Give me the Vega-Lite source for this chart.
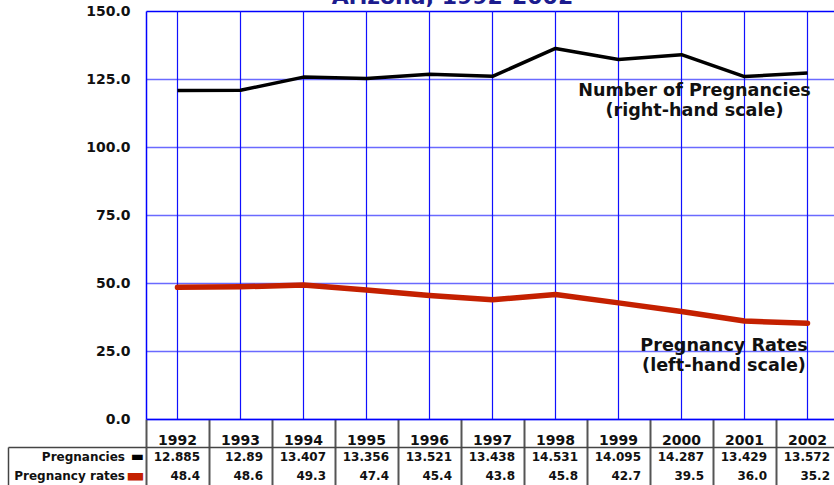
{
  "$schema": "https://vega.github.io/schema/vega-lite/v6.json",
  "padding": {"left": 7, "top": -14, "right": 0, "bottom": 0},
  "config": {"view": {"stroke": null}, "font": "DejaVu Sans"},
  "datasets": {
    "az": [
      {"year": 1992, "preg": 12.885, "rate": 48.4},
      {"year": 1993, "preg": 12.89, "rate": 48.6},
      {"year": 1994, "preg": 13.407, "rate": 49.3},
      {"year": 1995, "preg": 13.356, "rate": 47.4},
      {"year": 1996, "preg": 13.521, "rate": 45.4},
      {"year": 1997, "preg": 13.438, "rate": 43.8},
      {"year": 1998, "preg": 14.531, "rate": 45.8},
      {"year": 1999, "preg": 14.095, "rate": 42.7},
      {"year": 2000, "preg": 14.287, "rate": 39.5},
      {"year": 2001, "preg": 13.429, "rate": 36.0},
      {"year": 2002, "preg": 13.572, "rate": 35.2}
    ]
  },
  "bounds": "flush",
  "spacing": 28,
  "vconcat": [
    {
      "width": 693,
      "height": 408,
      "data": {"name": "az"},
      "title": {"text": "Arizona, 1992-2002", "fontSize": 22, "fontWeight": "bold", "color": "#1c1c8e", "anchor": "middle", "dx": -40, "dy": 28, "offset": 6, "baseline": "alphabetic"},
      "layer": [
        {
          "mark": {"type": "rule", "color": "#1010ff", "strokeWidth": 1.2},
          "encoding": {
            "x": {"field": "year", "type": "ordinal", "scale": {"type": "band", "paddingInner": 0, "paddingOuter": 0},
              "axis": {"title": null, "orient": "bottom", "labelAngle": 0, "labelFontSize": 14, "labelFontWeight": "bold", "labelColor": "#111", "domainColor": "#0000ff", "domainWidth": 1.5, "tickColor": "#555", "tickWidth": 2, "tickSize": 28, "bandPosition": 0, "labelPadding": -14, "grid": false}}
          }
        },
        {
          "mark": {"type": "line", "color": "#c42000", "strokeWidth": 5.5, "strokeCap": "round", "strokeJoin": "round"},
          "encoding": {
            "x": {"field": "year", "type": "ordinal"},
            "y": {"field": "rate", "type": "quantitative", "scale": {"domain": [0, 150]},
              "axis": {"title": null, "values": [0, 25, 50, 75, 100, 125, 150], "format": ".1f", "labelFontSize": 14, "labelFontWeight": "bold", "labelColor": "#111", "ticks": false, "labelPadding": 16, "domainColor": "#0000ff", "domainWidth": 1.5, "grid": true, "gridWidth": 1.5, "gridOpacity": 1, "gridColor": {"condition": {"test": "datum.value === 150", "value": "#0000ff"}, "value": "#6a6aff"}}}
          }
        },
        {
          "mark": {"type": "line", "color": "#000000", "strokeWidth": 3.5, "strokeJoin": "round"},
          "encoding": {
            "x": {"field": "year", "type": "ordinal"},
            "y": {"field": "preg", "type": "quantitative", "scale": {"domain": [0, 16]}, "axis": null}
          }
        },
        {
          "data": {"values": [{}]},
          "mark": {"type": "text", "fontSize": 17.6, "fontWeight": "bold", "color": "#111", "align": "center", "baseline": "alphabetic", "lineHeight": 20, "dx": 13, "text": ["Number of Pregnancies", "(right-hand scale)"]},
          "encoding": {
            "x": {"datum": 2000, "type": "ordinal"},
            "y": {"datum": 118.75, "type": "quantitative", "scale": {"domain": [0, 150]}, "axis": null}
          }
        },
        {
          "data": {"values": [{}]},
          "mark": {"type": "text", "fontSize": 17.6, "fontWeight": "bold", "color": "#111", "align": "center", "baseline": "alphabetic", "lineHeight": 20, "dx": -20.5, "text": ["Pregnancy Rates", "(left-hand scale)"]},
          "encoding": {
            "x": {"datum": 2001, "type": "ordinal"},
            "y": {"datum": 25, "type": "quantitative", "scale": {"domain": [0, 150]}, "axis": null}
          }
        }
      ],
      "resolve": {"scale": {"y": "independent"}}
    },
    {
      "width": 693,
      "height": 39,
      "data": {"name": "az"},
      "layer": [
        {
          "mark": {"type": "text", "fontSize": 12, "fontWeight": "bold", "color": "#111", "align": "right", "dx": -9, "baseline": "middle"},
          "encoding": {
            "x": {"field": "year", "type": "ordinal", "bandPosition": 1, "scale": {"type": "band", "paddingInner": 0, "paddingOuter": 0},
              "axis": {"orient": "top", "title": null, "labels": false, "ticks": false, "domainColor": "#444", "domainWidth": 1.5, "grid": true, "gridColor": "#555", "gridWidth": 2, "bandPosition": 0}},
            "y": {"datum": "Pregnancies", "type": "nominal", "scale": {"type": "band", "domain": ["Pregnancies", "Pregnancy rates"], "paddingInner": 0, "paddingOuter": 0},
              "axis": {"orient": "left", "offset": 138, "title": null, "labels": false, "domainColor": "#444", "domainWidth": 1.5, "ticks": true, "tickSize": -138, "tickWidth": 1.5, "bandPosition": 0, "tickColor": {"condition": {"test": "datum.value === 'Pregnancies'", "value": "#444"}, "value": "rgba(0,0,0,0)"}}},
            "text": {"field": "preg", "type": "nominal"}
          }
        },
        {
          "mark": {"type": "text", "fontSize": 12, "fontWeight": "bold", "color": "#111", "align": "right", "dx": -9, "baseline": "middle"},
          "encoding": {
            "x": {"field": "year", "type": "ordinal", "bandPosition": 1},
            "y": {"datum": "Pregnancy rates", "type": "nominal"},
            "text": {"field": "rate", "type": "quantitative", "format": ".1f"}
          }
        },
        {
          "data": {"values": [{}]},
          "mark": {"type": "text", "fontSize": 12, "fontWeight": "bold", "color": "#111", "align": "right", "dx": -21, "baseline": "middle", "text": "Pregnancies"},
          "encoding": {
            "x": {"datum": 1992, "type": "ordinal", "bandPosition": 0},
            "y": {"datum": "Pregnancies", "type": "nominal"}
          }
        },
        {
          "data": {"values": [{}]},
          "mark": {"type": "text", "fontSize": 12, "fontWeight": "bold", "color": "#111", "align": "right", "dx": -21, "baseline": "middle", "text": "Pregnancy rates"},
          "encoding": {
            "x": {"datum": 1992, "type": "ordinal", "bandPosition": 0},
            "y": {"datum": "Pregnancy rates", "type": "nominal"}
          }
        },
        {
          "data": {"values": [{}]},
          "mark": {"type": "text", "fontSize": 14, "color": "#000000", "align": "right", "dx": -2, "baseline": "middle", "text": "▬"},
          "encoding": {
            "x": {"datum": 1992, "type": "ordinal", "bandPosition": 0},
            "y": {"datum": "Pregnancies", "type": "nominal"}
          }
        },
        {
          "data": {"values": [{}]},
          "mark": {"type": "text", "fontSize": 20, "color": "#c42000", "align": "right", "dx": -1, "baseline": "middle", "text": "▬"},
          "encoding": {
            "x": {"datum": 1992, "type": "ordinal", "bandPosition": 0},
            "y": {"datum": "Pregnancy rates", "type": "nominal"}
          }
        }
      ]
    }
  ]
}
